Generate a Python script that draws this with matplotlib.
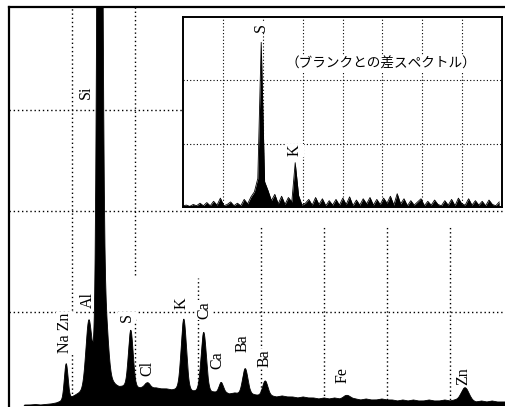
import numpy as np
import matplotlib.pyplot as plt

# main spectrum: peak table (keV, height above background, sigma keV)
peak_kev = [1.09, 1.52, 1.73, 1.84, 1.75, 2.32, 2.65, 3.33, 3.71, 4.04, 4.50, 4.88, 6.45, 8.69]
peak_height = [0.36, 0.63, 10.0, 0.50, 0.30, 0.56, 0.05, 0.70, 0.58, 0.10, 0.26, 0.14, 0.03, 0.13]
peak_sigma = [0.035, 0.055, 0.042, 0.05, 0.12, 0.045, 0.05, 0.05, 0.05, 0.04, 0.05, 0.05, 0.06, 0.07]

# background counts every 0.1 keV from 0.0 to 9.4
bg_counts = [0, 0, 0, 0.08, 0.08, 0.085, 0.08, 0.085, 0.09, 0.10,
             0.12, 0.13, 0.16, 0.19, 0.22, 0.24, 0.26, 0.27, 0.27, 0.27,
             0.27, 0.26, 0.27, 0.26, 0.26, 0.25, 0.26, 0.24, 0.25, 0.24,
             0.24, 0.23, 0.24, 0.23, 0.23, 0.22, 0.22, 0.22, 0.21, 0.21,
             0.20, 0.21, 0.19, 0.20, 0.19, 0.18, 0.19, 0.18, 0.17, 0.18,
             0.17, 0.16, 0.17, 0.16, 0.16, 0.15, 0.16, 0.15, 0.15, 0.14,
             0.15, 0.14, 0.15, 0.14, 0.15, 0.14, 0.14, 0.13, 0.14, 0.13,
             0.13, 0.14, 0.13, 0.13, 0.12, 0.13, 0.12, 0.13, 0.12, 0.12,
             0.13, 0.12, 0.12, 0.13, 0.12, 0.13, 0.13, 0.12, 0.12, 0.11,
             0.12, 0.11, 0.12, 0.11, 0.11]

# inset: difference spectrum every 0.1 keV from 0.0 to 9.3
diff_counts = [0.02, 0.03, 0.01, 0.04, 0.02,
               0.06, 0.02, 0.07, 0.02, 0.09, 0.03,
               0.14, 0.02, 0.04, 0.08, 0.02,
               0.06, 0.02, 0.12, 0.05, 0.16,
               0.24, 0.45, 2.60, 0.40, 0.26,
               0.10, 0.20, 0.05, 0.17, 0.04, 0.15, 0.08,
               0.70, 0.18, 0.03, 0.06,
               0.12, 0.03, 0.15, 0.04, 0.13, 0.02, 0.10, 0.03, 0.12,
               0.03, 0.14, 0.04, 0.16, 0.02, 0.11, 0.03, 0.13, 0.05, 0.15,
               0.03, 0.12, 0.04, 0.14, 0.06, 0.17, 0.03, 0.21, 0.05, 0.13,
               0.02, 0.10, 0.03, 0.08, 0.13, 0.02, 0.09, 0.03, 0.11, 0.04,
               0.02, 0.10, 0.03, 0.12, 0.02, 0.14, 0.05, 0.03, 0.13, 0.03,
               0.10, 0.03, 0.09, 0.02, 0.11, 0.04, 0.02, 0.08]

# element labels: text, keV, height
main_labels = ["Na Zn", "Al", "Si", "S", "Cl", "K", "Ca", "Ca", "Ba", "Ba", "Fe", "Zn"]
main_label_kev = [1.07, 1.505, 1.467, 2.248, 2.63, 3.295, 3.714, 3.962, 4.457, 4.876, 6.362, 8.648]
main_label_y = [0.79, 1.12, 3.18, 0.95, 0.44, 1.09, 1.02, 0.52, 0.69, 0.54, 0.38, 0.37]
inset_labels = ["S", "K"]
inset_label_kev = [2.29, 3.29]
inset_label_y = [2.83, 0.89]
inset_title = "（ブランクとの差スペクトル）"

serif = "Liberation Serif"
dots = (0, (1, 2))

fig = plt.figure(figsize=(5.05, 4.07), dpi=100)
fig.patch.set_facecolor("white")

# ---- main spectrum
ax = fig.add_axes([9 / 505, 1 / 407, 496 / 505, 399 / 407])
ax.set_xlim(0, 496 / 52.5)
ax.set_ylim(0.07, 4.02)

energy = np.arange(0, 9.45, 0.004)
counts = np.interp(energy, np.arange(len(bg_counts)) * 0.1, bg_counts)
for e0, h, s in zip(peak_kev, peak_height, peak_sigma):
    counts = counts + h * np.exp(-(energy - e0) ** 2 / (2 * s ** 2))
counts[energy < 0.25] = 0

# grid, drawn by hand because some lines stop short
for gy in [1, 2, 3]:
    ax.axhline(gy, color="black", lw=1, ls=dots, zorder=1)
ax.axvline(1.2, color="black", lw=1, ls=dots, zorder=1)
ax.vlines(2.4, 1.37, 4.02, color="black", lw=1, linestyles=[dots], zorder=1)
ax.vlines(2.4, 0.0, 0.94, color="black", lw=1, linestyles=[dots], zorder=1)
ax.vlines(3.6, 0.0, 1.34, color="black", lw=1, linestyles=[dots], zorder=1)
for k in [4, 5, 6, 7]:
    ax.vlines(1.2 * k, 0.0, 1.84, color="black", lw=1, linestyles=[dots], zorder=1)

ax.fill_between(energy, 0, counts, color="black", lw=0, zorder=3)
ax.plot(energy, counts, color="black", lw=0.6, zorder=3)

for t, e, y in zip(main_labels, main_label_kev, main_label_y):
    ax.text(e, y, t, rotation=90, ha="center", va="center", fontsize=11.5,
            family=serif, zorder=2,
            bbox=dict(facecolor="white", edgecolor="none", pad=0.6))

ax.set_xticks([])
ax.set_yticks([])
for side in ["right", "bottom"]:
    ax.spines[side].set_visible(False)
for side in ["left", "top"]:
    ax.spines[side].set_linewidth(1.6)

# ---- inset: difference spectrum
ins = fig.add_axes([183 / 505, 200 / 407, 319 / 505, 190 / 407])
ins.set_facecolor("white")
ins.set_xlim(0, 319 / 34)
ins.set_ylim(0, 3)
ins_e = np.arange(len(diff_counts)) * 0.1
for k in range(1, 8):
    ins.axvline(k * 319 / 34 / 8, color="black", lw=0.8, ls=dots, zorder=1)
for gy in [1, 2]:
    ins.axhline(gy, color="black", lw=0.8, ls=dots, zorder=1)
ins.fill_between(ins_e, 0, diff_counts, color="black", lw=0, zorder=3)
ins.plot(ins_e, diff_counts, color="black", lw=0.6, zorder=3)
for t, e, y in zip(inset_labels, inset_label_kev, inset_label_y):
    ins.text(e, y, t, rotation=90, ha="center", va="center", fontsize=11.5,
             family=serif, zorder=2,
             bbox=dict(facecolor="white", edgecolor="none", pad=0.6))
ins.text(5.82, 2.27, inset_title, ha="center", va="center", fontsize=9.8,
         family=["Noto Sans CJK JP", "DejaVu Sans"], zorder=2,
         bbox=dict(facecolor="white", edgecolor="none", pad=0.5))
ins.set_xticks([])
ins.set_yticks([])
for sp in ins.spines.values():
    sp.set_linewidth(1.4)

fig.savefig("out.png", dpi=100)
